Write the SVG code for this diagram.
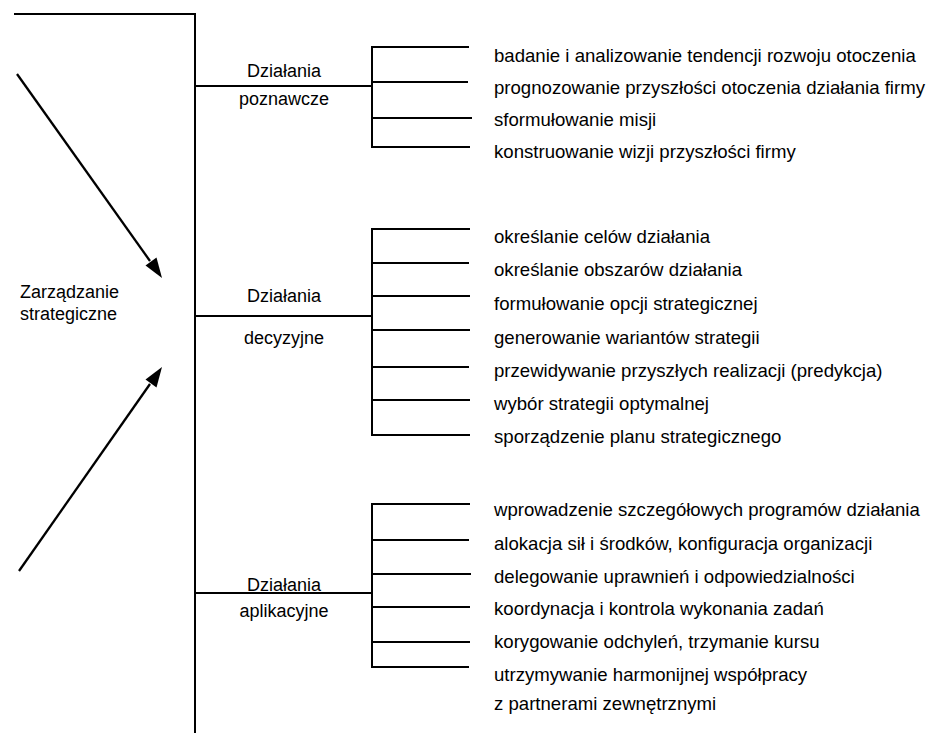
<svg xmlns="http://www.w3.org/2000/svg" width="929" height="733" viewBox="0 0 929 733">
  <defs>
    <style>
      .ln { stroke: #000; stroke-width: 2; fill: none; stroke-linecap: square; }
      .arr { stroke: #000; stroke-width: 2.3; fill: none; }
      .head { fill: #000; }
      text { font-family: "Liberation Sans", Arial, sans-serif; font-size: 18px; fill: #000; }
      .mid { text-anchor: middle; }
      .item { font-size: 18.6px; }
    </style>
  </defs>
  <rect width="929" height="733" fill="#fff"/>

  <!-- trunk, arrows and branch brackets -->
  <g id="connectors">
    <polyline class="ln" points="15,14 195,14 195,733"/>
    <line class="arr" x1="17" y1="74" x2="150" y2="261"/>
    <path class="head" d="M162,278 L145.5,265.5 L156.5,257.5 z"/>
    <line class="arr" x1="19" y1="571" x2="150" y2="384"/>
    <path class="head" d="M162,367 L156.5,387.5 L145.5,379.5 z"/>

    <!-- branch 1 -->
    <line class="ln" x1="195" y1="86" x2="372" y2="86"/>
    <line class="ln" x1="372" y1="47" x2="372" y2="147"/>
    <line class="ln" x1="372" y1="47" x2="468" y2="47"/>
    <line class="ln" x1="372" y1="82" x2="467" y2="82"/>
    <line class="ln" x1="372" y1="118" x2="471" y2="118"/>
    <line class="ln" x1="372" y1="147" x2="469" y2="147"/>

    <!-- branch 2 -->
    <line class="ln" x1="195" y1="316" x2="372" y2="316"/>
    <line class="ln" x1="372" y1="229" x2="372" y2="435"/>
    <line class="ln" x1="372" y1="229" x2="469" y2="229"/>
    <line class="ln" x1="372" y1="263" x2="468" y2="263"/>
    <line class="ln" x1="372" y1="296" x2="469" y2="296"/>
    <line class="ln" x1="372" y1="330" x2="469" y2="330"/>
    <line class="ln" x1="372" y1="367" x2="468" y2="367"/>
    <line class="ln" x1="372" y1="400" x2="469" y2="400"/>
    <line class="ln" x1="372" y1="435" x2="469" y2="435"/>

    <!-- branch 3 -->
    <line class="ln" x1="195" y1="593" x2="372" y2="593"/>
    <line class="ln" x1="372" y1="504" x2="372" y2="667"/>
    <line class="ln" x1="372" y1="504" x2="469" y2="504"/>
    <line class="ln" x1="372" y1="540" x2="468" y2="540"/>
    <line class="ln" x1="372" y1="574" x2="470" y2="574"/>
    <line class="ln" x1="372" y1="607" x2="469" y2="607"/>
    <line class="ln" x1="372" y1="642" x2="469" y2="642"/>
    <line class="ln" x1="372" y1="667" x2="468" y2="667"/>
  </g>

  <g id="root">
    <text x="20" y="298">Zarządzanie</text>
    <text x="20" y="320">strategiczne</text>
  </g>

  <g id="poznawcze">
    <text class="mid" x="284" y="77">Działania</text>
    <text class="mid" x="284" y="105">poznawcze</text>
  </g>
  <g id="poznawcze-items" class="item">
    <text class="item" x="494" y="62">badanie i analizowanie tendencji rozwoju otoczenia</text>
    <text class="item" x="494" y="94">prognozowanie przyszłości otoczenia działania firmy</text>
    <text class="item" x="494" y="126">sformułowanie misji</text>
    <text class="item" x="494" y="158">konstruowanie wizji przyszłości firmy</text>
  </g>

  <g id="decyzyjne">
    <text class="mid" x="284" y="302">Działania</text>
    <text class="mid" x="284" y="344">decyzyjne</text>
  </g>
  <g id="decyzyjne-items">
    <text class="item" x="494" y="243">określanie celów działania</text>
    <text class="item" x="494" y="276">określanie obszarów działania</text>
    <text class="item" x="494" y="310">formułowanie opcji strategicznej</text>
    <text class="item" x="494" y="344">generowanie wariantów strategii</text>
    <text class="item" x="494" y="377">przewidywanie przyszłych realizacji (predykcja)</text>
    <text class="item" x="494" y="410">wybór strategii optymalnej</text>
    <text class="item" x="494" y="443">sporządzenie planu strategicznego</text>
  </g>

  <g id="aplikacyjne">
    <text class="mid" x="284" y="591">Działania</text>
    <text class="mid" x="284" y="617">aplikacyjne</text>
  </g>
  <g id="aplikacyjne-items">
    <text class="item" x="494" y="516">wprowadzenie szczegółowych programów działania</text>
    <text class="item" x="494" y="550">alokacja sił i środków, konfiguracja organizacji</text>
    <text class="item" x="494" y="583">delegowanie uprawnień i odpowiedzialności</text>
    <text class="item" x="494" y="615">koordynacja i kontrola wykonania zadań</text>
    <text class="item" x="494" y="648">korygowanie odchyleń, trzymanie kursu</text>
    <text class="item" x="494" y="681">utrzymywanie harmonijnej współpracy</text>
    <text class="item" x="494" y="710">z partnerami zewnętrznymi</text>
  </g>
</svg>
